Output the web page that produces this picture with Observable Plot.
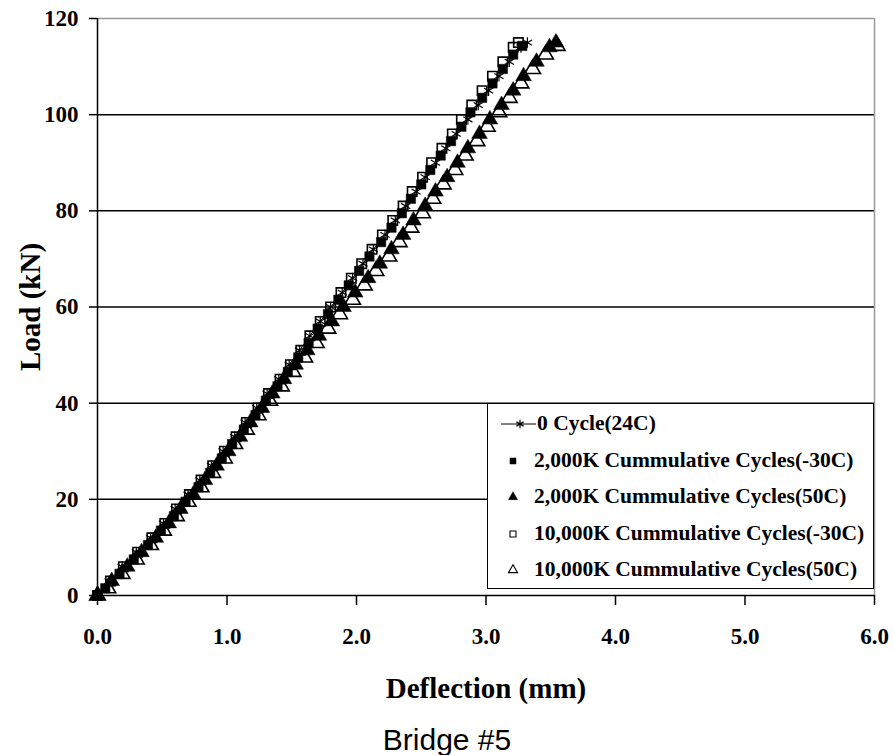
<!DOCTYPE html>
<html>
<head>
<meta charset="utf-8">
<script src="https://cdn.jsdelivr.net/npm/d3@7"></script>
<script src="https://cdn.jsdelivr.net/npm/@observablehq/plot@0.6"></script>
<style>
  body { margin: 0; background: #fff; }
  #wrap { position: relative; width: 894px; }
  #legend { position: absolute; left: 487px; top: 403px; width: 387px; height: 186px; box-sizing: border-box;
            border: 1.5px solid #000; background: #fff; }
  .row { position: absolute; left: 0; height: 30px; font: bold 21.5px "Liberation Serif", "Times New Roman", serif; color: #000; white-space: nowrap; }
  .row svg { position: absolute; left: 0; top: 0; }
  .row span { position: absolute; top: 50%; transform: translateY(-52%); }
  #caption { margin-top: 12px; width: 894px; text-align: center; font: 30px "Liberation Sans", Arial, sans-serif; line-height: 36px; color: #000; }
</style>
</head>
<body>
<div id="wrap"></div>
<div id="caption">Bridge #5</div>
<script>
// Load (kN) levels (two interleaved sets of readings)
const loads = [0,3,6,9,12,15,18,21,24,27,30,33,36,39,42,45,48,51,54,57,60,63,66,69,72,75,78,81,84,87,90,93,96,99,102,105,108,111,114,115];
const loadsHalf = [0,1.5,4.5,7.5,10.5,13.5,16.5,19.5,22.5,25.5,28.5,31.5,34.5,37.5,40.5,43.5,46.5,49.5,52.5,55.5,58.5,61.5,64.5,67.5,70.5,73.5,76.5,79.5,82.5,85.5,88.5,91.5,94.5,97.5,100.5,103.5,106.5,109.5,112.5,114.3];

// Deflection (mm) per series
const cycle0_24C = [0,0.09,0.19,0.30,0.41,0.51,0.60,0.70,0.79,0.88,0.97,1.06,1.14,1.23,1.31,1.40,1.48,1.56,1.64,1.72,1.80,1.89,1.97,2.05,2.13,2.22,2.30,2.38,2.46,2.53,2.61,2.69,2.77,2.86,2.94,3.02,3.10,3.18,3.27,3.32];
const k2000_m30C = [0,0.06,0.17,0.28,0.39,0.49,0.59,0.68,0.78,0.87,0.96,1.04,1.13,1.22,1.30,1.39,1.47,1.55,1.63,1.70,1.78,1.86,1.94,2.02,2.10,2.19,2.27,2.35,2.42,2.50,2.57,2.65,2.73,2.81,2.88,2.97,3.05,3.13,3.21,3.28];
const k2000_50C = [0,0.11,0.23,0.34,0.45,0.55,0.64,0.74,0.83,0.92,1.01,1.10,1.18,1.27,1.35,1.44,1.53,1.62,1.71,1.81,1.90,1.99,2.09,2.18,2.27,2.36,2.44,2.53,2.61,2.70,2.78,2.86,2.95,3.03,3.12,3.21,3.29,3.39,3.49,3.54];
const k10000_m30C = [0,0.10,0.20,0.31,0.42,0.52,0.61,0.71,0.80,0.89,0.98,1.07,1.15,1.24,1.32,1.41,1.49,1.57,1.64,1.72,1.80,1.88,1.96,2.04,2.12,2.20,2.28,2.36,2.43,2.51,2.58,2.66,2.74,2.81,2.89,2.97,3.05,3.13,3.21,3.25];
const k10000_50C = [0,0.08,0.19,0.30,0.41,0.51,0.61,0.70,0.80,0.89,0.98,1.06,1.15,1.24,1.33,1.42,1.51,1.60,1.69,1.78,1.87,1.97,2.06,2.15,2.25,2.33,2.42,2.51,2.59,2.67,2.76,2.84,2.93,3.01,3.10,3.18,3.27,3.36,3.46,3.55];

const seriesNames = [
  "0 Cycle(24C)",
  "2,000K Cummulative Cycles(-30C)",
  "2,000K Cummulative Cycles(50C)",
  "10,000K Cummulative Cycles(-30C)",
  "10,000K Cummulative Cycles(50C)"
];
const yTicks = [0,20,40,60,80,100,120];
const xTicks = [0,1,2,3,4,5,6];
const gridY = [20,40,60,80,100];

const toRows = (ls, arr) => ls.map((L, i) => ({L, d: arr[i]}));
const A = toRows(loads, cycle0_24C);
const B = toRows(loadsHalf, k2000_m30C);
const C = toRows(loads, k2000_50C);
const D = toRows(loads, k10000_m30C);
const E = toRows(loadsHalf, k10000_50C);

const serif = '"Liberation Serif", "Times New Roman", serif';

const chart = Plot.plot({
  width: 894,
  height: 710,
  marginLeft: 97,
  marginRight: 20,
  marginTop: 18,
  marginBottom: 115,
  style: { fontFamily: serif, background: "#fff", color: "#000", overflow: "visible" },
  x: { domain: [0, 6] },
  y: { domain: [0, 120] },
  marks: [
    Plot.ruleY(gridY, { stroke: "#000", strokeWidth: 1.5 }),
    Plot.ruleY([120], { stroke: "#9a9a9a", strokeWidth: 1.5 }),
    Plot.ruleX([6], { stroke: "#9a9a9a", strokeWidth: 1.5 }),
    Plot.axisY({ ticks: yTicks, tickSize: 8, tickPadding: 11, label: null, fontSize: 23, fontWeight: "bold", strokeWidth: 1.5 }),
    Plot.axisX({ ticks: xTicks, tickFormat: d3.format(".1f"), tickSize: 10, tickPadding: 22, label: null, fontSize: 23, fontWeight: "bold", strokeWidth: 1.5 }),
    Plot.line(A, { x: "d", y: "L", stroke: "#000", strokeWidth: 1 }),
    Plot.dot(A, { x: "d", y: "L", symbol: "asterisk", r: 5, stroke: "#000", strokeWidth: 1.2 }),
    Plot.dot(B, { x: "d", y: "L", symbol: "square", r: 5.3, fill: "#000", stroke: "#000", strokeWidth: 0.5 }),
    Plot.dot(C, { x: "d", y: "L", symbol: "triangle", r: 5.8, fill: "#000", stroke: "#000", strokeWidth: 0.5 }),
    Plot.dot(D, { x: "d", y: "L", symbol: "square", r: 5.3, fill: "none", stroke: "#000", strokeWidth: 1.6 }),
    Plot.dot(E, { x: "d", y: "L", symbol: "triangle", r: 5.8, fill: "none", stroke: "#000", strokeWidth: 1.6 }),
    Plot.ruleY([0], { stroke: "#000", strokeWidth: 1.5 }),
    Plot.ruleX([0], { stroke: "#000", strokeWidth: 1.5 }),
    Plot.text(["Load (kN)"], { frameAnchor: "left", dx: -67, rotate: -90, textAnchor: "middle", lineAnchor: "middle", fontSize: 29, fontWeight: "bold", fill: "#000" }),
    Plot.text(["Deflection (mm)"], { frameAnchor: "bottom", dy: 93, textAnchor: "middle", lineAnchor: "middle", fontSize: 29, fontWeight: "bold", fill: "#000" })
  ]
});
document.getElementById("wrap").appendChild(chart);

// Legend box (Excel style)
const legend = document.createElement("div");
legend.id = "legend";
const rowCenters = [20, 56.5, 93, 129.5, 166];
const legSymbols = [
  { type: d3.symbolAsterisk, fill: "none", line: true },
  { type: d3.symbolSquare, fill: "#000" },
  { type: d3.symbolTriangle, fill: "#000" },
  { type: d3.symbolSquare, fill: "#fff" },
  { type: d3.symbolTriangle, fill: "#fff" }
];
seriesNames.forEach((name, i) => {
  const row = document.createElement("div");
  row.className = "row";
  row.style.top = (rowCenters[i] - 15) + "px";
  row.style.width = "380px";
  const s = legSymbols[i];
  const svg = d3.create("svg").attr("width", 60).attr("height", 30);
  if (s.line) {
    svg.append("line").attr("x1", 13).attr("x2", 48).attr("y1", 15).attr("y2", 15).attr("stroke", "#000").attr("stroke-width", 1);
    svg.append("path").attr("transform", "translate(32,15)").attr("d", d3.symbol(s.type, 50)())
      .attr("fill", "none").attr("stroke", "#000").attr("stroke-width", 1.2);
  } else {
    svg.append("path").attr("transform", "translate(25,15)").attr("d", d3.symbol(s.type, 36)())
      .attr("fill", s.fill).attr("stroke", "#000").attr("stroke-width", s.fill === "#000" ? 0.5 : 1.1);
  }
  row.appendChild(svg.node());
  const span = document.createElement("span");
  span.textContent = name;
  span.style.left = (i === 0 ? 49 : 46) + "px";
  row.appendChild(span);
  legend.appendChild(row);
});
document.getElementById("wrap").appendChild(legend);
</script>
</body>
</html>
